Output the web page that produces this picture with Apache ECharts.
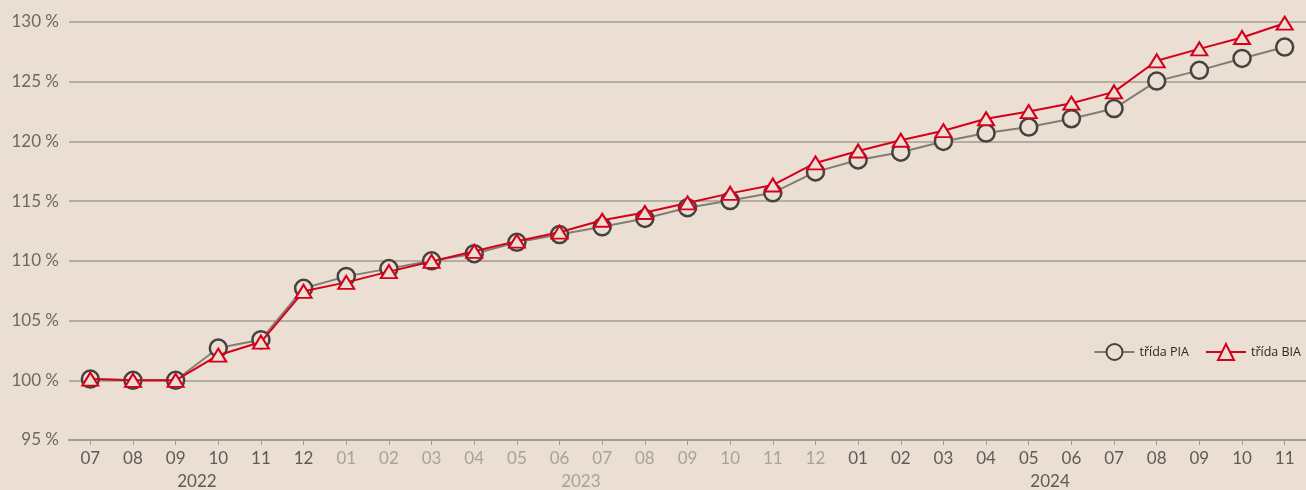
<!DOCTYPE html>
<html>
<head>
<meta charset="utf-8">
<script src="https://cdn.jsdelivr.net/npm/echarts@6/dist/echarts.min.js"></script>
<style>
html,body{margin:0;padding:0;background:#eadfd2;}
#c{width:1306px;height:490px;}
</style>
</head>
<body>
<div id="c"></div>
<script>
const months = ['07','08','09','10','11','12','01','02','03','04','05','06','07','08','09','10','11','12','01','02','03','04','05','06','07','08','09','10','11'];
const monthYear = [2022,2022,2022,2022,2022,2022,2023,2023,2023,2023,2023,2023,2023,2023,2023,2023,2023,2023,2024,2024,2024,2024,2024,2024,2024,2024,2024,2024,2024];
const years = ['2022','2023','2024'];
const yearCenters = [2.5, 11.5, 22.5];
const yearColors = ['#5f5a55','#a9a29a','#5f5a55'];
const seriesNames = ['třída PIA','třída BIA'];
const pia = [100.1,100.0,100.0,102.7,103.4,107.7,108.7,109.35,110.0,110.6,111.55,112.2,112.85,113.55,114.45,115.05,115.7,117.45,118.45,119.1,120.0,120.7,121.2,121.9,122.75,125.05,125.95,126.95,127.9];
const bia = [100.1,100.0,100.0,102.1,103.2,107.45,108.2,109.1,109.95,110.8,111.65,112.4,113.4,114.05,114.85,115.65,116.35,118.2,119.2,120.1,120.9,121.9,122.5,123.2,124.15,126.75,127.75,128.7,129.9];
const yTicks = {min:95, max:130, interval:5};

const chart = echarts.init(document.getElementById('c'));
const FONT = 'Lato';
const option = {
  backgroundColor:'#eadfd2',
  animation:false,
  grid:{left:69, right:0, top:22, bottom:50, containLabel:false},
  legend:{
    right:0, top:338, itemWidth:40, itemHeight:20, itemGap:16,
    textStyle:{fontFamily:'Open Sans', fontSize:12.5, color:'#2a2725'},
    data:seriesNames
  },
  xAxis:{
    type:'category', data:months, boundaryGap:true,
    axisLine:{show:true, lineStyle:{color:'#a39b92', width:2}},
    axisTick:{show:true, alignWithLabel:true, length:5, lineStyle:{color:'#a39b92', width:1}},
    axisLabel:{
      margin:10, fontFamily:FONT, fontSize:17,
      color:function(v, i){ return monthYear[i]===2023 ? '#a9a29a' : '#5f5a55'; }
    },
    splitLine:{show:false}
  },
  yAxis:{
    type:'value', min:yTicks.min, max:yTicks.max, interval:yTicks.interval,
    axisLine:{show:false}, axisTick:{show:false},
    axisLabel:{margin:10, fontFamily:FONT, fontSize:17, color:'#6d6863', formatter:'{value} %'},
    splitLine:{show:true, lineStyle:{color:'#a39b92', width:1.5}}
  },
  series:[
    {
      name:seriesNames[0], type:'line', data:pia,
      symbol:'circle', symbolSize:17,
      lineStyle:{color:'#857c74', width:2},
      itemStyle:{color:'#eadfd2', borderColor:'#45423f', borderWidth:2.5},
      z:2
    },
    {
      name:seriesNames[1], type:'line', data:bia,
      symbol:'triangle', symbolSize:[16,13],
      lineStyle:{color:'#d5001c', width:2},
      itemStyle:{color:'#eadfd2', borderColor:'#d5001c', borderWidth:2},
      z:3
    }
  ]
};
chart.setOption(option);
const g = years.map(function(y, k){
  const c = yearCenters[k];
  const a = chart.convertToPixel({xAxisIndex:0}, Math.floor(c));
  const b = chart.convertToPixel({xAxisIndex:0}, Math.ceil(c));
  return {type:'text', x:a + (b - a) * (c - Math.floor(c)), y:482,
    style:{text:y, fill:yearColors[k], font:'17px '+FONT, textAlign:'center', textVerticalAlign:'middle'}};
});
chart.setOption({graphic:g});
</script>
</body>
</html>
